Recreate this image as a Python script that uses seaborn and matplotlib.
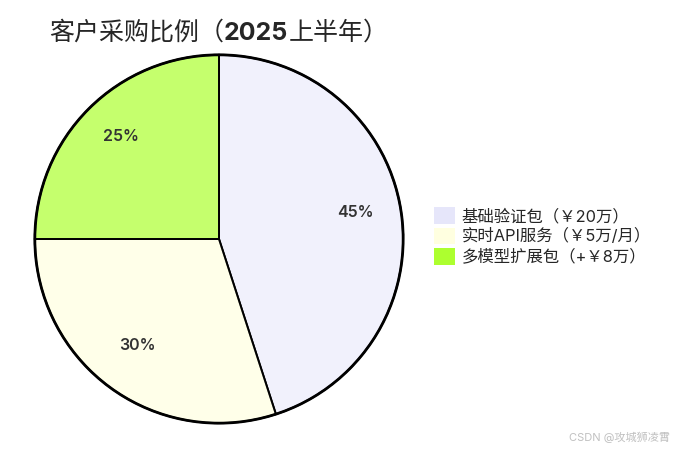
import numpy as np
import seaborn as sns
import matplotlib.pyplot as plt
from matplotlib.colors import to_rgba

sns.set_style("white")
plt.rcParams['font.family'] = ['Inter', 'Noto Sans CJK SC', 'DejaVu Sans']

# data
labels = ['基础验证包（￥20万）', '实时API服务（￥5万/月）', '多模型扩展包（+￥8万）']
shares = [45, 30, 25]
base_colors = ['#e6e6fa', '#ffffe0', '#adff2f']
title_parts = ['客户采购比例（', '2025', '上半年）']

fig = plt.figure(figsize=(6.78, 4.54), dpi=100)
ax = fig.add_axes([33 / 678, 29 / 454, 372 / 678, 372 / 454])

face = [to_rgba(c, 0.7) for c in base_colors]
face[0] = to_rgba('#e6e6fa', 0.55)
wedges, texts, autotexts = ax.pie(
    shares, colors=face, startangle=90, counterclock=False,
    autopct='%d%%', pctdistance=0.75,
    wedgeprops=dict(edgecolor='black', linewidth=1.4),
    textprops=dict(fontsize=11.5, color='#333333', fontweight='semibold'))
# nudge labels up a bit
for t in autotexts:
    x, y = t.get_position()
    t.set_position((x, y + 0.027))
ax.add_patch(plt.Circle((0, 0), 1, fill=False, edgecolor='black', linewidth=2.0))
ax.set_xlim(-1.01, 1.01)
ax.set_ylim(-1.01, 1.01)
ax.set_aspect('equal')

# title in pieces so the year can be bold
prev = fig.text(49 / 678, 1 - 40 / 454, title_parts[0], fontsize=18,
                ha='left', va='baseline')
for part, w in zip(title_parts[1:], ['bold', 'normal']):
    prev = ax.annotate(part, xy=(1, 0), xycoords=prev, xytext=(0, 0),
                       textcoords='offset points', fontsize=18, fontweight=w,
                       ha='left', va='bottom', annotation_clip=False)

handles = [plt.Rectangle((0, 0), 1, 1, facecolor=c, edgecolor='none') for c in base_colors]
fig.legend(handles, labels, loc='center left', bbox_to_anchor=(419 / 678, 1 - 236 / 454),
           frameon=False, fontsize=11.8, handlelength=1.3, handleheight=1.2,
           handletextpad=0.4, labelspacing=0.2)

fig.text(0.988, 0.025, 'CSDN @攻城狮凌霄', ha='right', va='bottom', fontsize=8, color='#c0c0c0')

fig.savefig('out.png', dpi=100)
